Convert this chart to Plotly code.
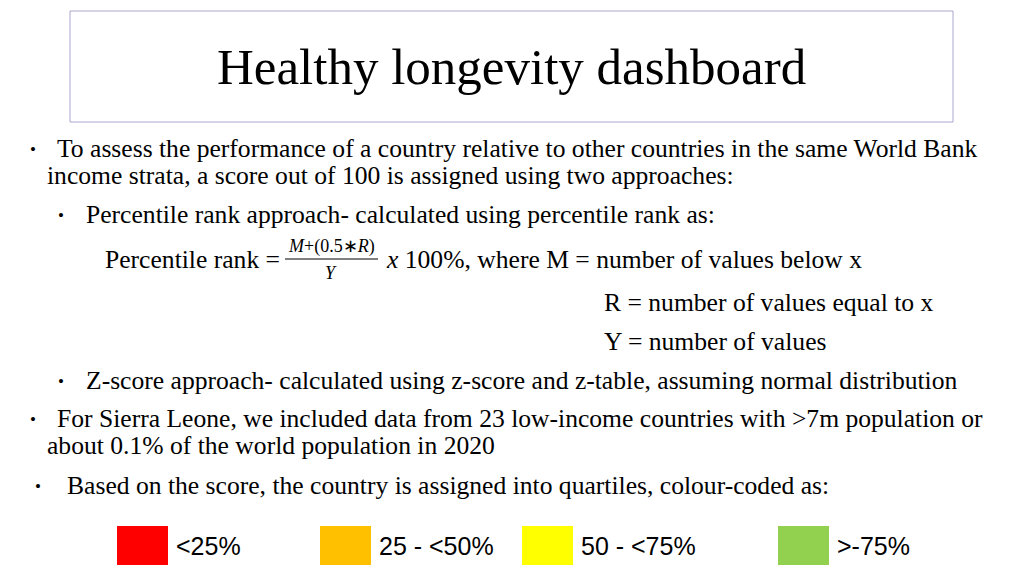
import plotly.graph_objects as go

# legend categories at the bottom of the slide
quartile_labels = ['<25%', '25 - <50%', '50 - <75%', '>-75%']
quartile_colors = ['#FF0000', '#FFC000', '#FFFF00', '#92D050']
quartile_left = [117, 320, 522, 778]

title_text = 'Healthy longevity dashboard'

# (bullet x, text x, y, text)
body_lines = [
    (33, 56, 148, 'To assess the performance of a country relative to other countries in the same World Bank'),
    (None, 46, 175, 'income strata, a score out of 100 is assigned using two approaches:'),
    (61, 85, 214, 'Percentile rank approach- calculated using percentile rank as:'),
    (None, 603, 302, 'R = number of values equal to x'),
    (None, 603, 341, 'Y = number of values'),
    (61, 85, 380, 'Z-score approach- calculated using z-score and z-table, assuming normal distribution'),
    (33, 56, 418, 'For Sierra Leone, we included data from 23 low-income countries with >7m population or'),
    (None, 46, 445, 'about 0.1% of the world population in 2020'),
    (38, 66, 485, 'Based on the score, the country is assigned into quartiles, colour-coded as:'),
]

SERIF = 'Liberation Serif'
W, H = 1024, 576
OFF = 8  # page body margin

fig = go.Figure()

fig.add_trace(go.Bar(
    x=[l + 25.5 for l in quartile_left],
    y=[39] * len(quartile_labels),
    base=526,
    width=51,
    marker=dict(color=quartile_colors, line=dict(width=0)),
    hoverinfo='skip',
    showlegend=False
))

annotations = []

def text(x, y, s, size=25.6, family=SERIF, anchor='left'):
    annotations.append(dict(
        x=x, y=y, xref='x', yref='y', text=s, showarrow=False,
        xanchor=anchor, yanchor='middle', borderpad=0,
        font=dict(family=family, size=size, color='black')
    ))

text(511, 67, title_text, size=51, anchor='center')

for bx, tx, y, s in body_lines:
    if bx is not None:
        text(bx, y + 1, '•', size=17, anchor='center')
    text(tx, y, s)

# percentile rank formula
text(104, 259, 'Percentile rank =')
text(331, 246, '<i>M</i>+(0.5∗<i>R</i>)', size=18, anchor='center')
text(331, 273, '<i>Y</i>', size=18, anchor='center')
text(385, 259, '<i>x</i> 100%, where M = number of values below x')

for lbl, left in zip(quartile_labels, quartile_left):
    text(left + 58, 546, lbl, size=25, family='Liberation Sans')

shapes = [
    dict(type='rect', xref='x', yref='y', x0=70, x1=953, y0=11, y1=122,
         line=dict(color='#A8A8CC', width=1), fillcolor='white', layer='below'),
    dict(type='line', xref='x', yref='y', x0=285, x1=378, y0=259, y1=259,
         line=dict(color='black', width=1)),
]

fig.update_layout(
    width=W - OFF, height=H - OFF,
    margin=dict(l=0, r=0, t=0, b=0),
    paper_bgcolor='white',
    plot_bgcolor='white',
    xaxis=dict(range=[OFF, W], visible=False, fixedrange=True),
    yaxis=dict(range=[H, OFF], visible=False, fixedrange=True),
    annotations=annotations,
    shapes=shapes,
    bargap=0
)

fig.write_html('out.html', config={'displayModeBar': False})
